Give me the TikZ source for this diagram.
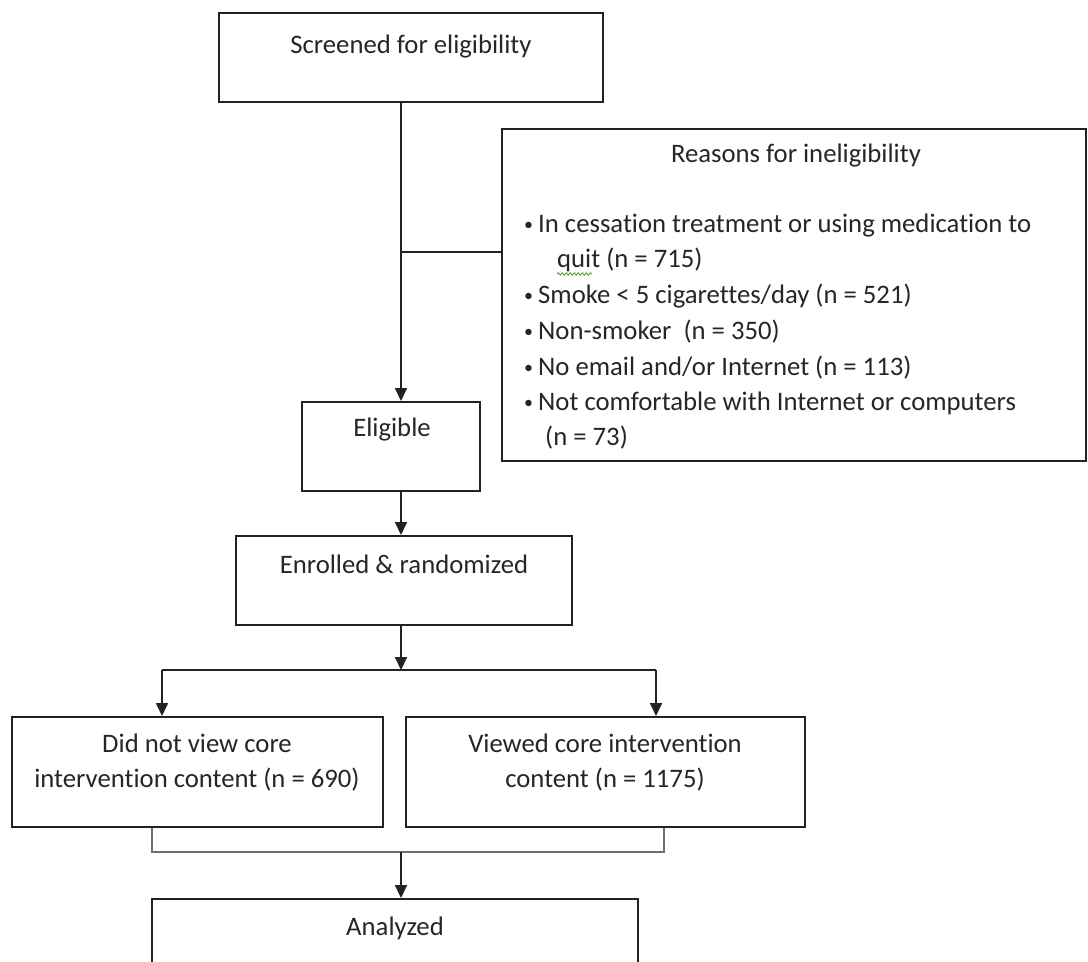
\documentclass[tikz,border=0pt]{standalone}
\usepackage{fontspec}
\setmainfont{Carlito}[Ligatures={NoCommon,NoContextual}]
\usetikzlibrary{arrows.meta,decorations.pathmorphing}

\definecolor{ink}{HTML}{222222}
\definecolor{txt}{HTML}{262626}
\definecolor{brk}{HTML}{6E6E6E}
\definecolor{squig}{HTML}{5FA03C}

\tikzset{
  box/.style={draw=ink, line width=2pt, rectangle, inner sep=0pt, fill=white},
  lbl/.style={inner sep=0pt, anchor=base, text=txt,
              font=\fontsize{26.7pt}{32pt}\selectfont},
  item/.style={lbl, anchor=base west},
  flow/.style={draw=ink, line width=1.8pt},
  arr/.style={flow, -{Triangle[width=12pt,length=13pt]}},
  merge/.style={draw=brk, line width=2.2pt},
}
% bullet sitting in a fixed-width slot before each reason
\newcommand{\bul}{\makebox[14pt][l]{\fontsize{18pt}{18pt}\selectfont\raisebox{1.5pt}{\textbullet}}}

\begin{document}
\begin{tikzpicture}[x=1pt,y=-1pt]
\useasboundingbox (0,0) rectangle (1088,962);
\clip (0,0) rectangle (1088,962);
\fill[white] (0,0) rectangle (1088,962);

% boxes
\node[box, minimum width=384pt, minimum height=89pt]  (scr)  at (411,57.5)  {};
\node[box, minimum width=584pt, minimum height=332pt] (reas) at (794,295)   {};
\node[box, minimum width=178pt, minimum height=89pt]  (elig) at (391,446.5) {};
\node[box, minimum width=336pt, minimum height=89pt]  (enr)  at (404,580.5) {};
\node[box, minimum width=371pt, minimum height=110pt] (dnv)  at (197.5,772) {};
\node[box, minimum width=399pt, minimum height=110pt] (vw)   at (605.5,772) {};
\node[box, minimum width=486pt, minimum height=89pt]  (ana)  at (395,943.5) {};

% box texts
\node[lbl] (scrT)  at (411,53)  {Screened for eligibility};
\node[lbl] (eligT) at (392,436) {Eligible};
\node[lbl] (enrT)  at (404,573) {Enrolled \& randomized};
\node[lbl] (dnvA)  at (197,752) {Did not view core};
\node[lbl] (dnvB)  at (197,787) {intervention content (n = 690)};
\node[lbl] (vwA)   at (605,752) {Viewed core intervention};
\node[lbl] (vwB)   at (605,787) {content (n = 1175)};
\node[lbl] (anaT)  at (395,935) {Analyzed};

% reasons for ineligibility
\node[lbl]  (reasT) at (796,162) {Reasons for ineligibility};
\node[item] (r1) at (524,232) {\bul In cessation treatment or using medication to};
\node[item] (r2) at (557,267) {quit (n = 715)};
\node[item] (r3) at (524,303) {\bul Smoke < 5 cigarettes/day (n = 521)};
\node[item] (r4) at (524,339) {\bul Non-smoker\ \ (n = 350)};
\node[item] (r5) at (524,375) {\bul No email and/or Internet (n = 113)};
\node[item] (r6) at (524,410) {\bul Not comfortable with Internet or computers};
\node[item] (r7) at (545,445) {(n = 73)};
\draw[squig, line width=0.9pt, decorate,
      decoration={snake, amplitude=1.2pt, segment length=4pt}]
  ([yshift=-7pt]r2.base west) -- ++(35,0);

% spine and junctions
\coordinate (spine) at (401,0);
\coordinate (jr) at (401,252);
\coordinate (sl) at (162,670);
\coordinate (sr) at (656,670);
\coordinate (bl) at (152,852);
\coordinate (br) at (664,852);

% connectors
\draw[arr] (scr.south -| spine) -- (elig.north -| spine);
\draw[flow, line width=1.2pt] (jr) -- (jr -| reas.west);
\draw[arr] (elig.south -| spine) -- (enr.north -| spine);
\draw[arr] (enr.south -| spine) -- (sl -| spine);
\draw[flow] (sl) -- (sr);
\draw[arr] (sl) -- (dnv.north -| sl);
\draw[arr] (sr) -- (vw.north -| sr);
\draw[merge] (dnv.south -| bl) -- (bl) -- (br) -- (vw.south -| br);
\draw[arr] (bl -| spine) -- (ana.north -| spine);
\end{tikzpicture}
\end{document}
